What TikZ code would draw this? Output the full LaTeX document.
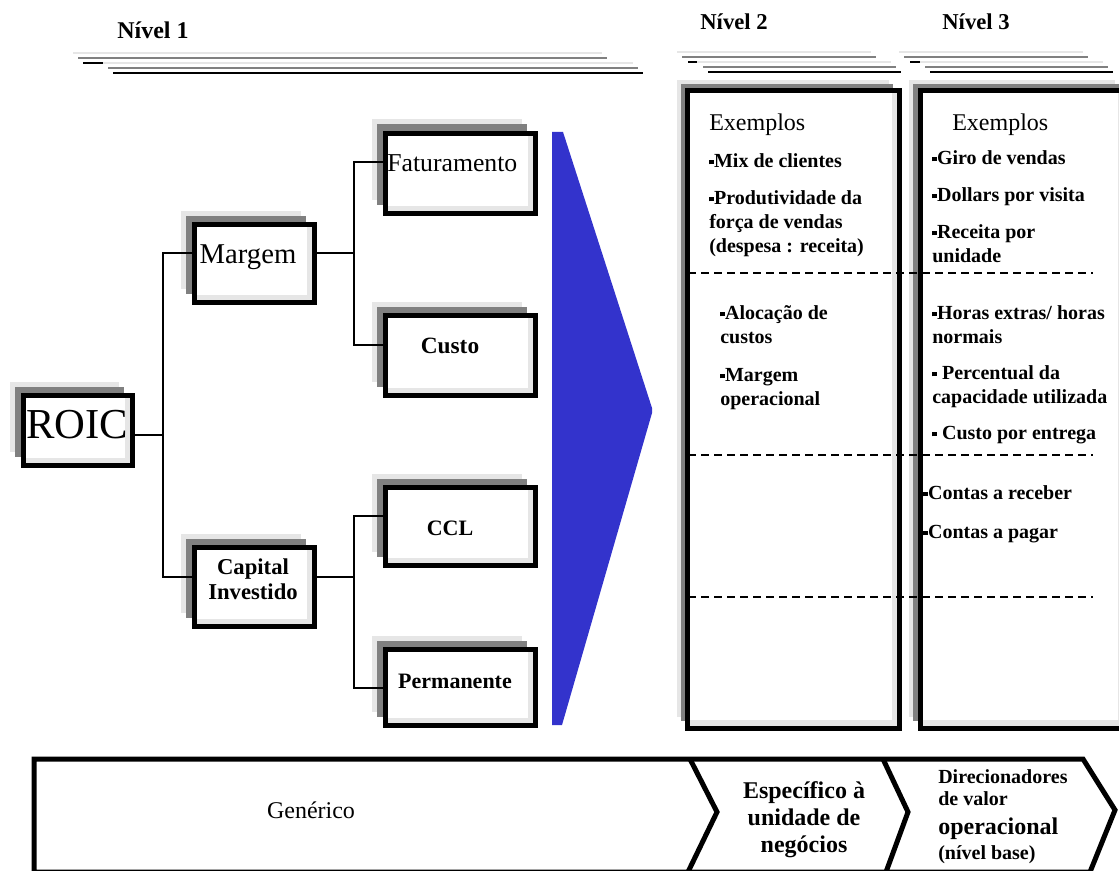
\documentclass[tikz,border=0pt]{standalone}
\usepackage{fontspec}
\setmainfont{Liberation Serif}
\usetikzlibrary{shadows}

\definecolor{shlight}{HTML}{E6E6E6}
\definecolor{shdark}{HTML}{808080}
\definecolor{wedgeblue}{HTML}{3333CC}

% small square bullet
\newcommand\bul{\rule[0.28ex]{0.24em}{0.24em}}
% stacked lines, baseline = first line
\newcommand\llines[1]{\vtop{\halign{##\hfil\cr#1\crcr}}}
\newcommand\clines[1]{\vtop{\halign{\hfil##\hfil\cr#1\crcr}}}

\tikzset{
  bevelbase/.style 2 args={draw=black, line width=3.75pt, fill=white, inner sep=0pt,
    minimum width=#1*0.75pt, minimum height=#2*0.75pt,
    path picture={
      \fill[shlight] ([xshift=-6pt]path picture bounding box.north east) rectangle (path picture bounding box.south east);
      \fill[shlight] (path picture bounding box.south west) rectangle ([yshift=6pt]path picture bounding box.south east);
    }},
  bevel/.style 2 args={
    general shadow={fill=shlight, shadow xshift=-10.5pt, shadow yshift=10.5pt},
    general shadow={fill=shdark, shadow xshift=-6.75pt, shadow yshift=6.75pt},
    bevelbase={#1}{#2}},
  colbevel/.style 2 args={
    general shadow={fill=shlight, shadow xshift=-8.25pt, shadow yshift=8.25pt},
    general shadow={fill=shdark, shadow xshift=-4.9pt, shadow yshift=4.9pt},
    bevelbase={#1}{#2}},
  conn/.style={draw=black, line width=1.5pt},
  lbl/.style={inner sep=0pt},
  item/.style={inner sep=0pt, anchor=base west, font=\bfseries\fontsize{15}{18}\selectfont},
  exem/.style={inner sep=0pt, anchor=base west, font=\fontsize{18}{21}\selectfont},
  hlight/.style={draw=shlight, line width=1.5pt},
  hdark/.style={draw=shdark, line width=1.1pt},
  hblack/.style={draw=black, line width=1.5pt},
  dashline/.style={draw=black, line width=1.1pt, dash pattern=on 6pt off 3.75pt},
  band/.style={draw=black, line width=3.75pt, line join=miter},
}

\begin{document}
\begin{tikzpicture}[x=0.75pt, y=-0.75pt]
\useasboundingbox (0,0) rectangle (1119,870);

% ---- level headers and their rules ----
\node[lbl, font=\bfseries\fontsize{18}{20}\selectfont] (h1) at (153,30) {Nível 1};
\node[lbl, font=\bfseries\fontsize{17}{20}\selectfont] (h2) at (734,22) {Nível 2};
\node[lbl, font=\bfseries\fontsize{17}{20}\selectfont] (h3) at (976,22) {Nível 3};

\draw[hlight] (73,53) -- (602,53);
\draw[hdark] (78,58) -- (607,58);
\draw[hblack] (83,63) -- (103,63);
\draw[hlight] (103,63) -- (633,63);
\draw[hdark] (108,68) -- (638,68);
\draw[hblack] (113,73) -- (643,73);

\draw[hlight] (677,52) -- (871,52);
\draw[hdark] (682,57) -- (876,57);
\draw[hblack] (688,62) -- (697,62);
\draw[hlight] (697,62) -- (891,62);
\draw[hdark] (703,67) -- (896,67);
\draw[hblack] (708,72) -- (901,72);

\draw[hlight] (899,52) -- (1083,52);
\draw[hdark] (904,57) -- (1088,57);
\draw[hblack] (910,62) -- (920,62);
\draw[hlight] (920,62) -- (1103,62);
\draw[hdark] (925,67) -- (1108,67);
\draw[hblack] (930,72) -- (1113,72);

% ---- ROIC tree ----
\node[bevel={109}{70}] (roic) at (78,430.5) {};
\node[bevel={120}{78}] (margem) at (254.5,263.5) {};
\node[bevel={120}{79}] (capital) at (254.5,587) {};
\node[bevel={150}{80}] (fat) at (460.5,173.5) {};
\node[bevel={150}{80}] (custo) at (460.5,355.5) {};
\node[bevel={150}{78}] (ccl) at (460.5,526.5) {};
\node[bevel={150}{76}] (perm) at (460.5,687.5) {};

\node[lbl, font=\fontsize{32}{36}\selectfont] (troic) at (77,425) {ROIC};
\node[lbl, font=\fontsize{21.5}{24}\selectfont] (tmargem) at (248,257) {Margem};
\node[lbl, anchor=west, font=\fontsize{19.3}{22}\selectfont] (tfat) at (387,163) {Faturamento};
\node[lbl, font=\bfseries\fontsize{17.5}{20}\selectfont] (tcusto) at (450,346) {Custo};
\node[lbl, font=\bfseries\fontsize{16.5}{20}\selectfont] (tccl) at (450,528) {CCL};
\node[lbl, font=\bfseries\fontsize{16.5}{20}\selectfont] (tperm) at (455,681) {Permanente};
\node[lbl, anchor=base, font=\bfseries\fontsize{17}{18.75}\selectfont] (tcap) at (253,574) {\clines{Capital\cr Investido}};

% connector ports
\coordinate (roicR) at ([yshift=-3.4pt]roic.east);
\coordinate (margemL) at ([yshift=7.9pt]margem.west);
\coordinate (margemR) at ([yshift=7.9pt]margem.east);
\coordinate (capL) at ([yshift=7.5pt]capital.west);
\coordinate (capR) at ([yshift=7.5pt]capital.east);
\coordinate (fatL) at ([yshift=8.6pt]fat.west);
\coordinate (custoL) at ([yshift=7.9pt]custo.west);
\coordinate (cclL) at ([yshift=7.9pt]ccl.west);
\coordinate (permL) at (perm.west);
\coordinate (ta) at (163,430);
\coordinate (tb) at (353.5,253);
\coordinate (tc) at (354,577);

\draw[conn] (roicR) -- (roicR -| ta);
\draw[conn] (margemL) -| (ta) |- (capL);
\draw[conn] (margemR) -- (margemR -| tb);
\draw[conn] (fatL) -| (tb) |- (custoL);
\draw[conn] (capR) -- (capR -| tc);
\draw[conn] (cclL) -| (tc) |- (permL);

% ---- blue wedge ----
\fill[wedgeblue] (552,132) -- (563,132) -- (652,408) -- (652,413) -- (562,725) -- (552,725) -- cycle;

% ---- level 2 and level 3 columns ----
\node[colbevel={212}{637}] (col2) at (793.5,409.5) {};
\node[colbevel={206}{637}] (col3) at (1023,409.5) {};

\draw[dashline] (688,273) -- (1093,273);
\draw[dashline] (688,455) -- (1093,455);
\draw[dashline] (688,597) -- (1093,597);

\node[exem] (ex2) at (709,131) {Exemplos};
\node[item] (a1) at (709,167) {\bul Mix de clientes};
\node[item] (a2) at (709,204) {\llines{\bul Produtividade da\cr força de vendas\cr (despesa : receita)}};
\node[item] (a3) at (720,319) {\llines{\bul Alocação de\cr custos}};
\node[item] (a4) at (720,381) {\llines{\bul Margem\cr operacional}};

\node[exem] (ex3) at (952,131) {Exemplos};
\node[item] (b1) at (932,164) {\bul Giro de vendas};
\node[item] (b2) at (932,201) {\bul Dollars por visita};
\node[item] (b3) at (932,238) {\llines{\bul Receita por\cr unidade}};
\node[item] (b4) at (932,319) {\llines{\bul Horas extras/ horas\cr normais}};
\node[item] (b5) at (932,379) {\llines{\bul\ Percentual da\cr capacidade utilizada}};
\node[item] (b6) at (932,439) {\bul\ Custo por entrega};
\node[item] (b7) at (923,499) {\bul Contas a receber};
\node[item] (b8) at (923,538) {\bul Contas a pagar};

% ---- bottom band ----
\draw[band] (34,759) -- (1083,759) -- (1115,810) -- (1090,872) -- (34,872) -- cycle;
\draw[band] (690,759) -- (717,812) -- (688,872);
\draw[band] (883,759) -- (908,812) -- (886,872);

\node[lbl, font=\fontsize{18}{20}\selectfont] (gen) at (311,810) {Genérico};
\node[lbl, anchor=base, font=\bfseries\fontsize{18}{20.25}\selectfont] (esp) at (804,798) {\clines{Específico à\cr unidade de\cr negócios}};
\node[lbl, anchor=base west, font=\bfseries\fontsize{15}{18}\selectfont] (d1) at (938,783) {Direcionadores};
\node[lbl, anchor=base west, font=\bfseries\fontsize{15}{18}\selectfont] (d2) at (938,805) {de valor};
\node[lbl, anchor=base west, font=\bfseries\fontsize{18}{20}\selectfont] (d3) at (938,834) {operacional};
\node[lbl, anchor=base west, font=\bfseries\fontsize{15}{18}\selectfont] (d4) at (938,859) {(nível base)};
\end{tikzpicture}
\end{document}
